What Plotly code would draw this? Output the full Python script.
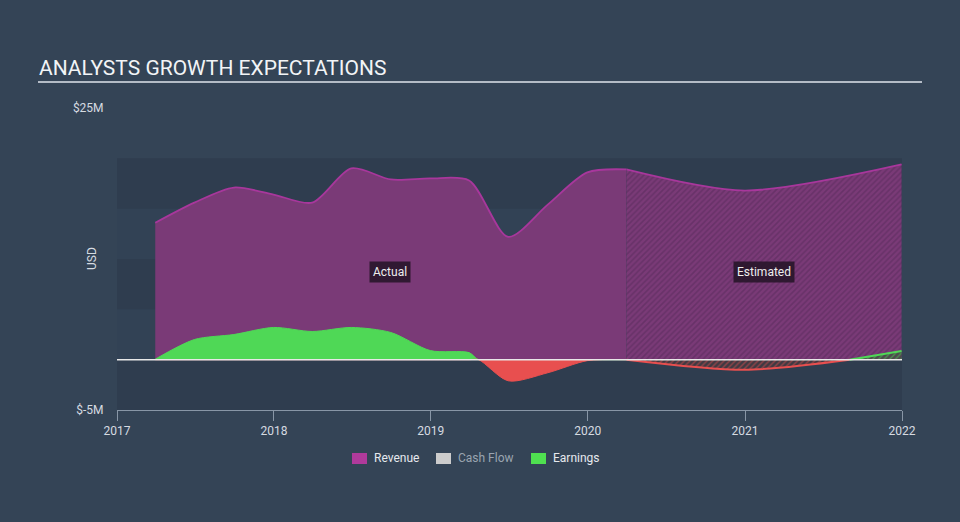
import plotly.graph_objects as go

# Revenue (USD millions), trailing quarters then analyst estimates
rev_act_x = ['2017-03-31', '2017-06-30', '2017-09-30', '2017-12-31', '2018-03-31', '2018-06-30',
             '2018-09-30', '2018-12-31', '2019-03-31', '2019-06-30', '2019-09-30', '2019-12-31',
             '2020-03-31']
rev_act_y = [13.6, 15.6, 17.1, 16.4, 15.6, 19.0, 17.9, 18.0, 17.8, 12.2, 15.4, 18.6, 18.9]
rev_est_x = ['2020-03-31', '2020-12-31', '2021-12-31']
rev_est_y = [18.9, 16.8, 19.4]

# Earnings (USD millions), incl. the points where the curve crosses zero
earn_act_x = ['2017-03-31', '2017-06-30', '2017-09-30', '2017-12-31', '2018-03-31', '2018-06-30',
              '2018-09-30', '2018-12-31', '2019-03-31', '2019-04-22', '2019-06-30', '2019-09-30',
              '2019-12-31', '2020-03-31']
earn_act_y = [0.05, 2.0, 2.5, 3.2, 2.8, 3.2, 2.7, 0.9, 0.7, 0.0, -2.1, -1.3, -0.1, 0.0]
earn_est_x = ['2020-03-31', '2020-12-31', '2021-09-01', '2021-12-31']
earn_est_y = [0.0, -1.0, 0.0, 0.85]

BG = '#344456'
BAND_DARK = '#2f3d4f'
BAND_LIGHT = '#324255'
REV_LINE = '#a8379c'
REV_FILL = '#7a3a77'
GREEN = '#4fd856'
RED = '#e84f4f'
FONT = 'Roboto'


def pos(v):
    return [max(a, 0) for a in v]


def neg(v):
    return [min(a, 0) for a in v]


fig = go.Figure()

spl = dict(shape='spline', smoothing=0.8)

# Revenue actual
fig.add_trace(go.Scatter(x=rev_act_x, y=rev_act_y, mode='lines', fill='tozeroy',
                         line=dict(color=REV_LINE, width=1.8, **spl),
                         fillcolor=REV_FILL, showlegend=False, hoverinfo='skip'))
# Revenue estimated (hatched)
fig.add_trace(go.Scatter(x=rev_est_x, y=rev_est_y, mode='lines', fill='tozeroy',
                         line=dict(color=REV_LINE, width=1.8, **spl),
                         fillcolor='rgba(0,0,0,0)',
                         fillpattern=dict(shape='/', fgcolor='#55295a', bgcolor=REV_FILL,
                                          size=4, solidity=0.4),
                         showlegend=False, hoverinfo='skip'))

# Earnings actual, positive (green) and negative (red)
fig.add_trace(go.Scatter(x=earn_act_x, y=pos(earn_act_y), mode='lines', fill='tozeroy',
                         line=dict(color=GREEN, width=1, **spl),
                         fillcolor=GREEN, showlegend=False, hoverinfo='skip'))
fig.add_trace(go.Scatter(x=earn_act_x, y=neg(earn_act_y), mode='lines', fill='tozeroy',
                         line=dict(color=RED, width=1, **spl),
                         fillcolor=RED, showlegend=False, hoverinfo='skip'))
# Earnings estimated (hatched)
est_neg = neg(earn_est_y)[:-1]
est_pos = pos(earn_est_y)[-2:]
fig.add_trace(go.Scatter(x=earn_est_x[:-1], y=est_neg, mode='lines', fill='tozeroy',
                         line=dict(color=RED, width=2, **spl),
                         fillcolor='rgba(0,0,0,0)',
                         fillpattern=dict(shape='/', fgcolor=RED, bgcolor='rgba(70,55,60,0.7)',
                                          size=4, solidity=0.35),
                         showlegend=False, hoverinfo='skip'))
fig.add_trace(go.Scatter(x=earn_est_x[-2:], y=est_pos, mode='lines', fill='tozeroy',
                         line=dict(color=GREEN, width=2, **spl),
                         fillcolor='rgba(0,0,0,0)',
                         fillpattern=dict(shape='/', fgcolor=GREEN, bgcolor='rgba(60,80,60,0.7)',
                                          size=4, solidity=0.35),
                         showlegend=False, hoverinfo='skip'))

# background bands
shapes = []
for i, (y0, y1) in enumerate([(-5, 0), (0, 5), (5, 10), (10, 15), (15, 20)]):
    shapes.append(dict(type='rect', xref='paper', yref='y', x0=0, x1=1, y0=y0, y1=y1,
                       fillcolor=BAND_DARK if i % 2 == 0 else BAND_LIGHT,
                       line=dict(width=0), layer='below'))
# title underline
shapes.append(dict(type='line', xref='paper', yref='paper', x0=(38 - 117) / 785,
                   x1=(922 - 117) / 785, y0=(410 - 82) / 302, y1=(410 - 82) / 302,
                   line=dict(color='#b4bcc6', width=2)))
# zero line
shapes.append(dict(type='line', xref='paper', yref='y', x0=0, x1=1, y0=0, y1=0,
                   line=dict(color='#e8e8e8', width=1.5), layer='above'))

# legend
legend_items = [('Revenue', '#b03a9b', '#e6e9ee', 352), ('Cash Flow', '#cccccc', '#9aa4b0', 436),
                ('Earnings', '#4fe050', '#e6e9ee', 531)]
annotations = []
for name, col, tcol, px in legend_items:
    shapes.append(dict(type='rect', xref='paper', yref='paper',
                       x0=(px - 117) / 785, x1=(px + 15 - 117) / 785,
                       y0=(410 - 464) / 302, y1=(410 - 453) / 302,
                       fillcolor=col, line=dict(width=0)))
    annotations.append(dict(xref='paper', yref='paper', x=(px + 20 - 117) / 785,
                            y=(410 - 458.5) / 302, xanchor='left', yanchor='middle',
                            text=name, showarrow=False,
                            font=dict(family=FONT, size=12, color=tcol)))

annotations.append(dict(xref='paper', yref='paper', x=(37 - 117) / 785, y=(410 - 68) / 302,
                        xanchor='left', yanchor='middle', text='ANALYSTS GROWTH EXPECTATIONS',
                        showarrow=False, font=dict(family=FONT, size=21, color='#f2f4f6')))
annotations.append(dict(xref='paper', yref='y', x=(92 - 117) / 785, y=10, textangle=-90,
                        xanchor='center', yanchor='middle',
                        text='USD', showarrow=False,
                        font=dict(family=FONT, size=12, color='#d6dbe1')))
for txt, xd in [('Actual', '2018-09-29'), ('Estimated', '2021-02-15')]:
    annotations.append(dict(x=xd, y=8.7, xref='x', yref='y', text=txt, showarrow=False,
                            bgcolor='rgba(35,20,38,0.85)', borderpad=3,
                            font=dict(family=FONT, size=12, color='#eeeeee')))

fig.update_layout(
    width=960, height=522,
    margin=dict(l=117, r=58, t=108, b=112),
    paper_bgcolor=BG, plot_bgcolor='rgba(0,0,0,0)',
    showlegend=False,
    shapes=shapes, annotations=annotations,
    xaxis=dict(range=['2017-01-01', '2022-01-01'],
               tickvals=['2017-01-01', '2018-01-01', '2019-01-01', '2020-01-01', '2021-01-01', '2022-01-01'],
               ticktext=['2017', '2018', '2019', '2020', '2021', '2022'],
               showgrid=False, zeroline=False, showline=True, linecolor='#8896a6', linewidth=1,
               ticks='outside', ticklen=10, tickcolor='#8896a6',
               tickfont=dict(family=FONT, size=12, color='#d6dbe1')),
    yaxis=dict(range=[-5, 25], tickvals=[-5, 25], ticktext=['$-5M', '$25M'],
               showgrid=False, zeroline=False, showline=False,
               ticks='outside', ticklen=10, tickcolor='rgba(0,0,0,0)',
               tickfont=dict(family=FONT, size=12, color='#d6dbe1')),
)

fig.write_html("out.html", config={'displayModeBar': False},
               post_script="document.body.style.margin='0';")
